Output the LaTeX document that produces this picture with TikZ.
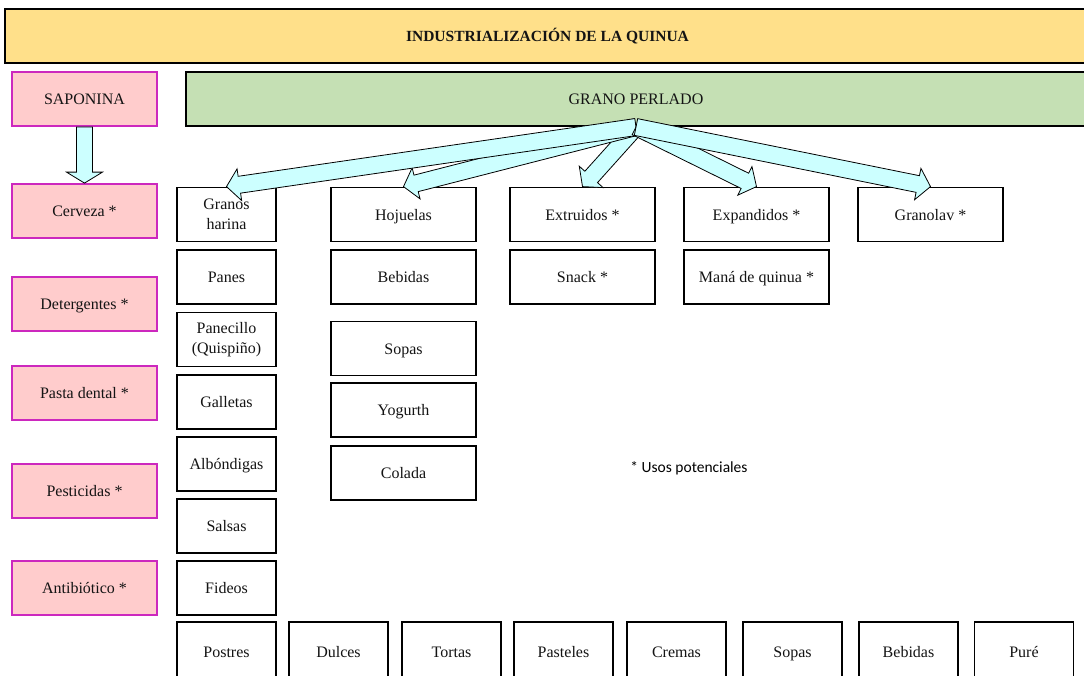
\documentclass[tikz,border=0pt]{standalone}
\usepackage{fontspec}
\setmainfont{Liberation Serif}
\newfontfamily\calib{Carlito}
\usetikzlibrary{calc}
\definecolor{titlefill}{RGB}{255,224,138}
\definecolor{greenfill}{RGB}{197,224,180}
\definecolor{pinkfill}{RGB}{255,204,204}
\definecolor{pinkline}{RGB}{204,40,190}
\definecolor{arrowfill}{RGB}{204,255,255}
\definecolor{txt}{RGB}{20,20,20}
\tikzset{
  box/.style={draw=black, line width=1.8pt, fill=white, align=center, inner sep=0pt,
    text=txt, font=\fontsize{16}{20}\selectfont},
  oneline/.style={text height=13.5pt, text depth=2pt},
  narrowbox/.style={box, minimum width=99pt, minimum height=54pt},
  widebox/.style={box, oneline, minimum width=145pt, minimum height=54pt},
  bottombox/.style={box, oneline, minimum width=99pt, minimum height=60pt},
  pinkbox/.style={draw=pinkline, line width=1.8pt, fill=pinkfill, align=center, inner sep=0pt,
    oneline, minimum width=145pt, minimum height=54pt, text=txt, font=\fontsize{16}{20}\selectfont},
  fatarrow/.style={draw=black, line width=0.8pt, fill=arrowfill, line join=miter}
}
\newcommand\fatarrow[5]{%
  \coordinate (fas) at ($(#2)!#5!(#1)$);
  \filldraw[fatarrow] ($(#1)!#3!90:(#2)$) -- ($(fas)!#3!90:(#2)$) -- ($(fas)!#4!90:(#2)$)
    -- (#2) -- ($(fas)!#4!-90:(#2)$) -- ($(fas)!#3!-90:(#2)$) -- ($(#1)!#3!-90:(#2)$) -- cycle;}
\begin{document}
\begin{tikzpicture}[x=1pt,y=-1pt]
\useasboundingbox (0,0) rectangle (1084,675);
% title
\node[draw=black, line width=1.8pt, fill=titlefill, minimum width=1085pt, minimum height=54pt,
  inner sep=0pt, oneline, font=\bfseries\fontsize{15.5}{18}\selectfont, text=txt] (title) at (547.5,36) {INDUSTRIALIZACIÓN DE LA QUINUA};
\node[draw=black, line width=1.8pt, fill=greenfill, minimum width=900pt, minimum height=54pt,
  inner sep=0pt, oneline, font=\fontsize{16}{18}\selectfont, text=txt] (grano) at (636,99) {GRANO PERLADO};
% left pink column
\node[pinkbox] (sap) at (84.5,99) {SAPONINA};
\node[pinkbox] (cer) at (84.5,211) {Cerveza *};
\node[pinkbox] (det) at (84.5,304) {Detergentes *};
\node[pinkbox] (pas) at (84.5,393) {Pasta dental *};
\node[pinkbox] (pes) at (84.5,491) {Pesticidas *};
\node[pinkbox] (ant) at (84.5,588) {Antibiótico *};
% column 1
\node[narrowbox] (gra) at (226.5,214.5) {Granos\\harina};
\node[narrowbox, oneline] (pan) at (226.5,277) {Panes};
\node[narrowbox] (pcl) at (226.5,339.5) {Panecillo\\(Quispiño)};
\node[narrowbox, oneline] (gal) at (226.5,402) {Galletas};
\node[narrowbox, oneline] (alb) at (226.5,464) {Albóndigas};
\node[narrowbox, oneline] (sal) at (226.5,526) {Salsas};
\node[narrowbox, oneline] (fid) at (226.5,588) {Fideos};
% column 2
\node[widebox] (hoj) at (403.5,214.5) {Hojuelas};
\node[widebox] (beb) at (403.5,277) {Bebidas};
\node[widebox] (sop) at (403.5,348.5) {Sopas};
\node[widebox] (yog) at (403.5,410) {Yogurth};
\node[widebox] (col) at (403.5,473) {Colada};
% column 3
\node[widebox] (ext) at (582.5,214.5) {Extruidos *};
\node[widebox] (sna) at (582.5,277) {Snack *};
% column 4
\node[widebox] (exp) at (756.5,214.5) {Expandidos *};
\node[widebox] (man) at (756.5,277) {Maná de quinua *};
% column 5
\node[widebox] (grv) at (930.5,214.5) {Granolav *};
% bottom row
\node[bottombox] (b1) at (226.5,652) {Postres};
\node[bottombox] (b2) at (338.5,652) {Dulces};
\node[bottombox] (b3) at (451.5,652) {Tortas};
\node[bottombox] (b4) at (563.5,652) {Pasteles};
\node[bottombox] (b5) at (676.5,652) {Cremas};
\node[bottombox] (b6) at (792.5,652) {Sopas};
\node[bottombox] (b7) at (908.5,652) {Bebidas};
\node[bottombox] (b8) at (1024,652) {Puré};
% note
\node[font=\calib\fontsize{15.5}{18}\selectfont, text=black, inner sep=0pt] (note) at (689,468) {* Usos potenciales};
% arrows
\coordinate (src) at (636,127);
\fatarrow{sap.south}{cer.north}{8pt}{18pt}{11pt}
\fatarrow{src}{ext.north}{8.5pt}{16pt}{13pt}
\fatarrow{src}{hoj.north}{8.5pt}{16pt}{13pt}
\fatarrow{src}{gra.north}{8.5pt}{16pt}{13pt}
\fatarrow{src}{exp.north}{8.5pt}{16pt}{13pt}
\fatarrow{src}{grv.north}{8.5pt}{16pt}{13pt}
\end{tikzpicture}
\end{document}
